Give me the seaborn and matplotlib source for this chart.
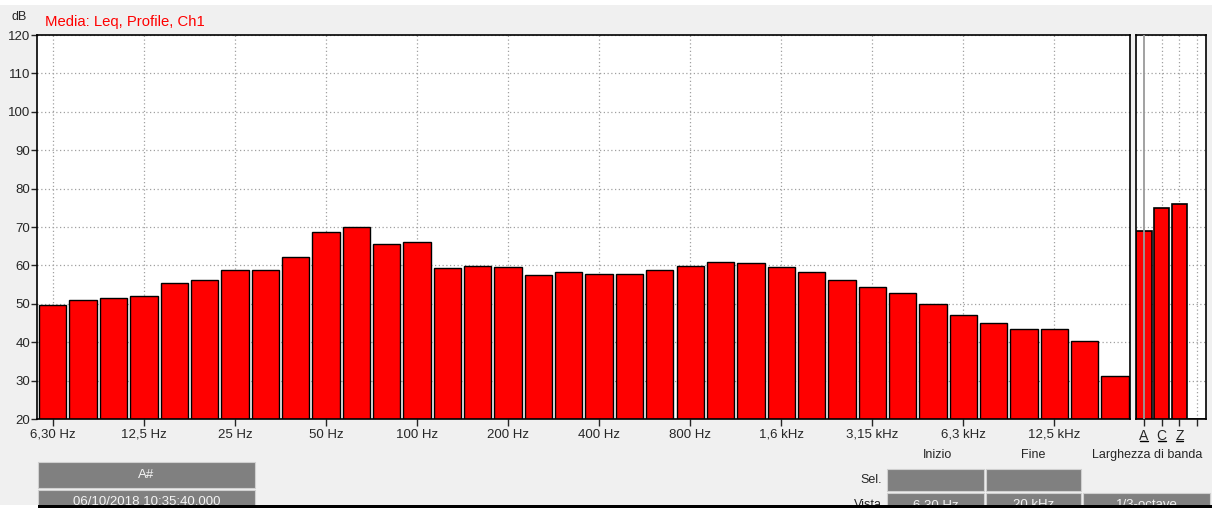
import numpy as np
import pandas as pd
import matplotlib
matplotlib.use('Agg')
import matplotlib.pyplot as plt
import matplotlib.transforms as mtransforms
from matplotlib.patches import Rectangle
import seaborn as sns

# Dati dello spettro (1/3 di ottava, Leq)
bande = ['6,30 Hz', '8 Hz', '10 Hz', '12,5 Hz', '16 Hz', '20 Hz', '25 Hz', '31,5 Hz',
         '40 Hz', '50 Hz', '63 Hz', '80 Hz', '100 Hz', '125 Hz', '160 Hz', '200 Hz',
         '250 Hz', '315 Hz', '400 Hz', '500 Hz', '630 Hz', '800 Hz', '1 kHz', '1,25 kHz',
         '1,6 kHz', '2 kHz', '2,5 kHz', '3,15 kHz', '4 kHz', '5 kHz', '6,3 kHz', '8 kHz',
         '10 kHz', '12,5 kHz', '16 kHz', '20 kHz']
livelli = [49.6, 50.9, 51.4, 52.0, 55.3, 56.1, 58.7, 58.7, 62.3, 68.6, 69.9, 65.7,
           66.0, 59.2, 59.9, 59.7, 57.4, 58.4, 57.8, 57.8, 58.7, 59.9, 60.8, 60.5,
           59.7, 58.4, 56.2, 54.3, 52.9, 49.9, 47.1, 45.0, 43.5, 43.5, 40.4, 31.2]

ponderazioni = ['A', 'C', 'Z', ' ']
livelli_globali = [69.0, 75.0, 76.0, 20.0]

y_ticks = list(range(20, 130, 10))

sns.set_style('white')
plt.rcParams['font.family'] = ['Liberation Sans', 'DejaVu Sans']

fig = plt.figure(figsize=(12.15, 5.17), dpi=100, facecolor='#f0f0f0')
W, H = 1215, 517

def fx(px):
    return px / W

def fy(py):
    return 1 - py / H

ax = fig.add_axes([fx(37), fy(419), fx(1130 - 37), (419 - 35) / H])
ax2 = fig.add_axes([fx(1136), fy(419), fx(1206 - 1136), (419 - 35) / H])

df = pd.DataFrame({'banda': bande, 'livello': livelli})
sns.barplot(data=df, x='banda', y='livello', color='red', saturation=1,
            edgecolor='black', linewidth=1, width=0.9, ax=ax)
df2 = pd.DataFrame({'pond': ponderazioni, 'livello': livelli_globali})
sns.barplot(data=df2, x='pond', y='livello', color='red', saturation=1,
            edgecolor='black', linewidth=1.2, width=0.87, ax=ax2)

for a in (ax, ax2):
    a.set_facecolor('white')
    a.set_ylim(20, 120)
    a.set_yticks(y_ticks)
    a.set_xlabel('')
    a.set_ylabel('')
    a.set_axisbelow(True)
    a.grid(True, linestyle=(0, (1, 2)), color='#a0a0a0', linewidth=0.9)
    for s in a.spines.values():
        s.set_color('black')
        s.set_linewidth(1.2)

ax.set_xlim(-0.52, 35.49)
pos = list(range(0, 36, 3))
ax.set_xticks(pos)
ax.set_xticklabels([bande[i] for i in pos])
ax.tick_params(axis='x', direction='out', length=5, width=1, pad=2, labelsize=9.5, bottom=True)
ax.tick_params(axis='y', direction='out', length=4, width=1, pad=1, labelsize=9.5, left=True)

ax2.set_xlim(-0.45, 3.5)
ax2.set_xticks(range(len(ponderazioni)))
ax2.set_xticklabels([p.strip() for p in ponderazioni])
ax2.tick_params(axis='x', direction='out', length=5, width=1, pad=2, labelsize=10, bottom=True)
ax2.tick_params(axis='y', left=False, labelleft=False)
ax2.xaxis.get_gridlines()[0].set_visible(False)
# cursore grigio sulla banda A, sopra le barre
ax2.axvline(ponderazioni.index('A'), color='#9a9a9a', linewidth=1.3, zorder=5)

# sottolineatura delle etichette A, C, Z
trans = mtransforms.blended_transform_factory(ax2.transData, ax2.transAxes)
for i, p in enumerate(ponderazioni):
    if p.strip():
        ax2.plot([i - 0.22, i + 0.22], [-0.058, -0.058], transform=trans,
                 color='black', linewidth=1, clip_on=False)

# Titoli
fig.text(fx(12), fy(17), 'dB', fontsize=9, va='center', ha='left')
fig.text(fx(45), fy(22), 'Media: Leq, Profile, Ch1', color='red', fontsize=10.7,
         va='center', ha='left')

# Strisce bianche ai bordi
fig.patches.append(Rectangle((0, fy(5)), 1, 5 / H, transform=fig.transFigure,
                             facecolor='white', edgecolor='none', zorder=0.5))
fig.patches.append(Rectangle((fx(1212), 0), fx(W - 1212), 1, transform=fig.transFigure,
                             facecolor='white', edgecolor='none', zorder=0.5))

# Tabella in basso
def box(x0, x1, y0, y1, testo=''):
    fig.patches.append(Rectangle((fx(x0), fy(y1)), fx(x1 - x0), (y1 - y0) / H,
                                 transform=fig.transFigure, facecolor='#808080',
                                 edgecolor='#d0d0d0', linewidth=0.8, zorder=2))
    if testo:
        fig.text(fx((x0 + x1) / 2), fy((y0 + y1) / 2), testo, color='#f4f4f4',
                 fontsize=9.5, ha='center', va='center', zorder=3)

box(38, 255, 462, 488, 'A#')
box(38, 255, 490, 514, '06/10/2018 10:35:40.000')
box(887, 984, 469, 491)
box(986, 1081, 469, 491)
box(887, 984, 493, 517, '6,30 Hz')
box(986, 1081, 493, 517, '20 kHz')
box(1083, 1210, 493, 517, '1/3-octave')

fig.text(fx(937), fy(455), 'Inizio', fontsize=9, ha='center', va='center')
fig.text(fx(1033), fy(455), 'Fine', fontsize=9, ha='center', va='center')
fig.text(fx(1147), fy(455), 'Larghezza di banda', fontsize=9, ha='center', va='center')
fig.text(fx(882), fy(480), 'Sel.', fontsize=9, ha='right', va='center')
fig.text(fx(882), fy(505), 'Vista', fontsize=9, ha='right', va='center', zorder=3)

# Bordo inferiore che taglia la tabella
fig.patches.append(Rectangle((0, 0), 1, (H - 505) / H, transform=fig.transFigure,
                             facecolor='white', edgecolor='none', zorder=10))
fig.patches.append(Rectangle((fx(38), fy(508)), fx(1212 - 38), 3 / H,
                             transform=fig.transFigure, facecolor='black',
                             edgecolor='none', zorder=11))

fig.savefig('out.png', dpi=100, facecolor=fig.get_facecolor())
